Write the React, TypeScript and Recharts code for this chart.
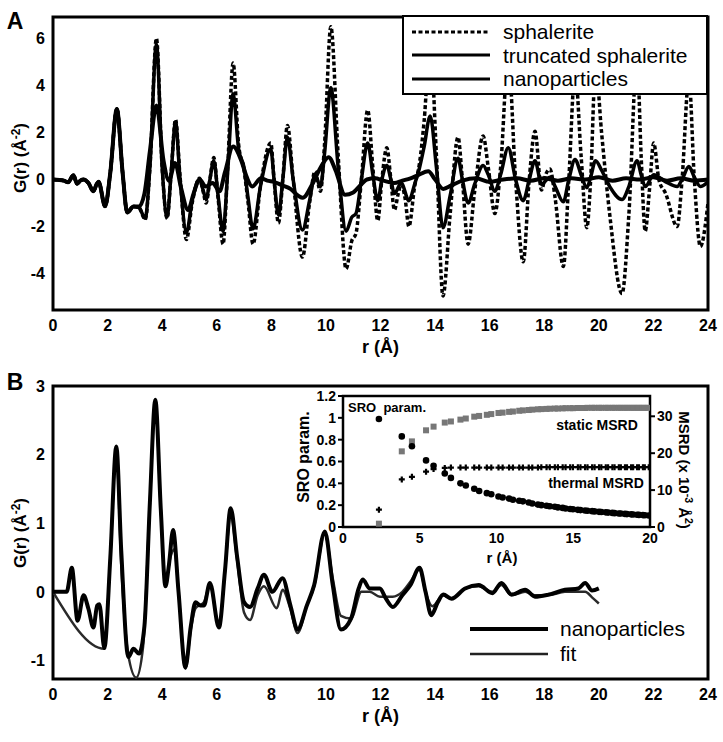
import React from 'react';
import { LineChart, Line, XAxis, YAxis, Legend, ReferenceArea, ScatterChart, Scatter } from 'recharts';

type Pt = [number, number];

const FONT = '"Liberation Sans", Arial, Helvetica, sans-serif';

// ---- panel A : G(r) of sphalerite, truncated sphalerite, nanoparticles ----
const lowR: Pt[] = [
  [0, 0], [0.4, -0.05], [0.55, -0.12], [0.75, 0.18], [0.88, -0.18], [1.0, -0.05], [1.12, 0.0],
  [1.3, -0.15], [1.48, -0.5], [1.6, -0.2], [1.67, -0.1], [1.91, -1.14], [2.1, 0.3], [2.34, 3.0],
  [2.55, 0.3], [2.72, -1.4], [2.95, -1.15],
];

const sphalerite: Pt[] = [
  ...lowR,
  [3.15, -1.2], [3.38, -1.7], [3.55, 0.5], [3.79, 6.0], [4.0, 0.5], [4.18, -1.65], [4.33, 0.3], [4.49, 2.55],
  [4.65, 0.2], [4.89, -2.55], [5.1, -1.0], [5.37, 0.05], [5.5, -0.5], [5.61, -1.0], [5.75, 0.0], [5.89, 0.93],
  [6.05, -0.8], [6.23, -2.75], [6.4, 0.5], [6.6, 4.95], [6.8, 1.5], [7.0, 0.4], [7.15, -1.0], [7.33, -2.75],
  [7.6, -0.3], [7.98, 1.55], [8.1, 0.0], [8.26, -1.85], [8.42, 0.0], [8.59, 2.3], [8.8, 0.0], [9.14, -3.3],
  [9.4, -1.0], [9.6, 0.35], [9.8, -0.5], [9.95, 1.5], [10.18, 6.5], [10.45, 1.0], [10.74, -3.8], [10.95, -2.6],
  [11.1, -2.3], [11.3, 0.0], [11.53, 2.95], [11.72, 0.5], [11.9, -1.75], [12.05, 0.0], [12.23, 1.35], [12.38, 0.0],
  [12.51, -1.3], [12.65, -0.6], [12.76, -0.2], [12.9, -0.8], [13.04, -2.0], [13.25, -0.3], [13.43, 0.7], [13.6, 2.5],
  [13.82, 5.8], [14.05, 1.0], [14.29, -4.95], [14.55, -1.5], [14.84, 1.8], [15.0, 0.0], [15.21, -2.75], [15.45, -0.5],
  [15.76, 1.85], [15.95, 0.5], [16.19, -1.45], [16.4, 0.5], [16.68, 5.2], [16.95, 0.0], [17.23, -3.5], [17.45, 0.0],
  [17.66, 2.05], [17.9, -0.45], [18.05, 0.2], [18.21, 0.45], [18.4, -0.8], [18.7, -3.7], [18.9, 0.0], [19.13, 4.6],
  [19.35, 1.0], [19.56, -2.05], [19.7, 0.0], [19.88, 4.8], [20.1, 2.0], [20.4, -1.5], [20.85, -4.85], [21.1, -1.5],
  [21.4, 5.2], [21.55, 1.0], [21.7, -2.2], [21.85, -0.5], [22.01, 1.55], [22.2, 0.0], [22.45, -0.6], [22.87, -2.0],
  [23.05, 0.0], [23.3, 4.3], [23.5, 0.0], [23.72, -2.85], [24.0, -1.0],
];

const truncated: Pt[] = [
  ...lowR,
  [3.15, -1.2], [3.38, -1.65], [3.55, 0.5], [3.79, 5.75], [4.0, 0.5], [4.18, -1.6], [4.33, 0.3], [4.49, 2.45],
  [4.65, 0.1], [4.89, -2.25], [5.1, -0.9], [5.37, 0.0], [5.5, -0.45], [5.61, -0.85], [5.75, 0.0], [5.89, 0.8],
  [6.05, -0.7], [6.23, -2.2], [6.4, 0.3], [6.6, 3.65], [6.8, 1.3], [7.0, 0.5], [7.15, -0.8], [7.33, -2.1],
  [7.6, -0.3], [7.98, 1.3], [8.1, 0.0], [8.26, -1.5], [8.42, 0.0], [8.59, 1.8], [8.8, 0.0], [9.14, -2.15],
  [9.4, -0.9], [9.6, 0.2], [9.8, -0.3], [9.95, 1.1], [10.18, 3.9], [10.45, 0.5], [10.74, -2.2], [10.95, -1.6],
  [11.1, -1.45], [11.3, 0.0], [11.53, 1.55], [11.72, 0.2], [11.9, -0.9], [12.05, 0.0], [12.23, 0.6], [12.38, 0.0],
  [12.51, -0.6], [12.76, -0.15], [13.04, -0.9], [13.25, -0.2], [13.43, 0.5], [13.6, 1.4], [13.82, 2.7], [14.05, 0.5],
  [14.29, -2.05], [14.55, -0.7], [14.84, 0.9], [15.0, 0.0], [15.21, -1.0], [15.45, -0.2], [15.76, 0.6], [15.95, 0.2],
  [16.19, -0.5], [16.4, 0.2], [16.68, 1.35], [16.95, 0.0], [17.23, -0.9], [17.45, 0.0], [17.66, 0.8], [17.9, -0.2],
  [18.21, 0.1], [18.4, -0.3], [18.7, -0.95], [18.9, 0.0], [19.13, 0.85], [19.35, 0.2], [19.56, -0.35], [19.7, 0.1],
  [19.88, 0.8], [20.1, 0.4], [20.4, -0.3], [20.85, -0.85], [21.1, -0.3], [21.4, 0.8], [21.55, 0.2], [21.7, -0.3],
  [22.01, 0.2], [22.45, -0.1], [22.87, -0.3], [23.05, 0.0], [23.3, 0.55], [23.5, 0.1], [23.72, -0.3], [24.0, -0.1],
];

const nanoA: Pt[] = [
  ...lowR,
  [3.15, -1.15], [3.35, -0.6], [3.55, 1.2], [3.79, 3.15], [4.05, 0.8], [4.25, -0.05], [4.47, 0.7], [4.7, -0.4],
  [4.95, -1.3], [5.15, -0.6], [5.37, 0.0], [5.6, -0.3], [5.85, -0.15], [6.1, -0.5], [6.3, 0.3], [6.6, 1.4],
  [6.9, 0.8], [7.1, 0.1], [7.3, -0.3], [7.62, 0.05], [7.85, -0.05], [8.1, -0.1], [8.4, -0.25], [8.7, -0.4],
  [9.0, -0.7], [9.15, -0.78], [9.5, -0.2], [9.8, 0.5], [10.1, 0.95], [10.35, 0.4], [10.7, -0.65], [11.0, -0.55],
  [11.3, -0.2], [11.5, 0.0], [11.8, 0.05], [12.1, -0.05], [12.5, -0.15], [12.8, -0.05], [13.1, 0.05], [13.4, 0.2],
  [13.75, 0.35], [14.0, 0.0], [14.3, -0.4], [14.6, -0.25], [15.0, -0.05], [15.5, 0.05], [16.0, -0.1], [16.5, 0.0],
  [17.0, 0.05], [17.5, -0.05], [18.0, 0.05], [18.5, -0.05], [19.0, 0.05], [19.5, 0.0], [20.0, 0.1], [20.5, -0.05],
  [21.0, 0.05], [21.5, 0.0], [22.0, 0.1], [22.5, -0.05], [23.0, 0.05], [23.5, -0.05], [24.0, 0.0],
];

// ---- panel B : nanoparticle data and fit ----
const nanoB: Pt[] = [
  [0, 0], [0.5, 0], [0.69, 0.35], [0.9, -0.42], [1.12, -0.05], [1.3, -0.25], [1.48, -0.52], [1.62, -0.2],
  [1.7, -0.18], [1.88, -0.82], [2.1, 0.5], [2.32, 2.12], [2.5, 0.6], [2.76, -0.95], [2.95, -0.83], [3.15, -0.9],
  [3.35, -0.5], [3.55, 1.3], [3.75, 2.8], [3.95, 1.2], [4.12, 0.08], [4.25, 0.4], [4.4, 0.9], [4.6, 0.0],
  [4.85, -1.1], [5.05, -0.5], [5.22, -0.15], [5.4, -0.2], [5.53, -0.2], [5.75, 0.13], [6.08, -0.52], [6.3, 0.3],
  [6.51, 1.22], [6.75, 0.5], [7.0, -0.15], [7.22, -0.22], [7.5, 0.05], [7.73, 0.25], [8.04, 0.0], [8.41, 0.2],
  [8.7, -0.2], [8.96, -0.55], [9.3, -0.2], [9.57, 0.1], [9.96, 0.88], [10.25, 0.1], [10.55, -0.55], [10.92, -0.39],
  [11.2, 0.05], [11.35, 0.18], [11.6, 0.05], [11.98, 0.05], [12.2, -0.1], [12.45, -0.22], [12.8, -0.05], [13.1, 0.1],
  [13.43, 0.35], [13.65, 0.0], [13.86, -0.34], [14.1, -0.15], [14.3, -0.04], [14.6, -0.1], [15.1, 0.05], [15.6, 0.1],
  [16.1, -0.02], [16.43, 0.13], [16.8, -0.04], [17.3, 0.03], [17.66, -0.07], [18.15, -0.04], [18.76, 0.03], [19.25, 0.05],
  [19.5, 0.13], [19.75, 0.02], [20.0, 0.05],
];

const fitB: Pt[] = [
  [0, 0], [1.88, -0.83], [2.1, 0.5], [2.32, 2.08], [2.5, 0.4], [2.75, -0.9], [3.05, -1.25], [3.3, -0.8],
  [3.55, 1.3], [3.75, 2.75], [3.95, 1.2], [4.12, 0.12], [4.3, 0.5], [4.45, 0.62], [4.6, 0.0], [4.85, -1.12],
  [5.05, -0.55], [5.22, -0.24], [5.53, -0.15], [5.75, 0.1], [6.08, -0.5], [6.3, 0.3], [6.51, 1.12], [6.75, 0.45],
  [7.0, -0.3], [7.22, -0.41], [7.5, -0.05], [7.73, 0.08], [8.2, -0.24], [8.41, 0.03], [8.7, -0.25], [8.96, -0.6],
  [9.3, -0.2], [9.57, 0.08], [9.96, 0.85], [10.25, 0.2], [10.55, -0.35], [10.92, -0.39], [11.3, 0.0], [11.6, 0.0],
  [11.98, -0.07], [12.45, -0.07], [12.8, 0.0], [13.1, 0.15], [13.43, 0.33], [13.65, 0.0], [13.9, -0.21], [14.3, -0.05],
  [14.6, -0.1], [15.1, 0.05], [15.6, 0.08], [16.1, 0.0], [16.43, 0.1], [16.8, -0.05], [17.3, 0.0], [17.66, -0.05],
  [18.15, -0.05], [18.76, 0.0], [19.25, 0.0], [19.5, 0.0], [19.75, -0.08], [20.0, -0.17],
];

// ---- inset : SRO parameter and MSRD per shell ----
const shellR = [
  2.34, 3.83, 4.49, 5.41, 5.9, 6.63, 7.03, 7.65, 8.0, 8.55, 8.87, 9.37, 9.66, 10.13, 10.4, 10.82, 11.07, 11.48,
  11.72, 12.1, 12.33, 12.7, 12.92, 13.26, 13.47, 13.8, 14.0, 14.31, 14.5, 14.8, 14.98, 15.3, 15.47, 15.77, 15.93,
  16.23, 16.39, 16.68, 16.83, 17.12, 17.27, 17.55, 17.69, 17.97, 18.1, 18.37, 18.5, 18.77, 18.9, 19.16, 19.28,
  19.54, 19.66, 19.92,
];
const sroParam = [
  0.99, 0.83, 0.74, 0.61, 0.56, 0.49, 0.45, 0.4, 0.38, 0.35, 0.33, 0.31, 0.3, 0.28, 0.27, 0.26, 0.25, 0.24,
  0.235, 0.225, 0.215, 0.205, 0.2, 0.195, 0.19, 0.185, 0.18, 0.175, 0.17, 0.165, 0.162, 0.157, 0.155, 0.151, 0.149,
  0.145, 0.143, 0.139, 0.137, 0.134, 0.132, 0.129, 0.127, 0.124, 0.123, 0.12, 0.118, 0.116, 0.115, 0.112, 0.111,
  0.109, 0.108, 0.106,
];
const staticMsrd = [
  0.9, 20.5, 23.2, 26.2, 27.2, 28.3, 28.6, 29.1, 29.4, 29.9, 30.1, 30.4, 30.6, 30.9, 31.0, 31.2, 31.3, 31.5,
  31.6, 31.7, 31.8, 31.9, 31.95, 32.0, 32.05, 32.1, 32.1, 32.15, 32.2, 32.2, 32.2, 32.25, 32.25, 32.25, 32.3,
  32.3, 32.3, 32.3, 32.3, 32.3, 32.3, 32.3, 32.3, 32.3, 32.3, 32.3, 32.3, 32.3, 32.3, 32.3, 32.3,
  32.3, 32.3, 32.3,
];
const thermalMsrd = [
  4.7, 12.9, 13.6, 15.0, 15.7, 16.0, 16.1, 16.1, 16.1, 16.1, 16.1, 16.1, 16.1, 16.1, 16.1, 16.1, 16.1, 16.1,
  16.1, 16.1, 16.1, 16.1, 16.2, 16.2, 16.2, 16.2, 16.2, 16.2, 16.2, 16.2, 16.2, 16.2, 16.2, 16.2, 16.2,
  16.2, 16.2, 16.2, 16.2, 16.2, 16.2, 16.2, 16.2, 16.2, 16.2, 16.2, 16.2, 16.2, 16.2, 16.2, 16.2,
  16.2, 16.2, 16.2,
];

const xMajor = [0, 2, 4, 6, 8, 10, 12, 14, 16, 18, 20, 22, 24];
const xMinor = [0, 1, 2, 3, 4, 5, 6, 7, 8, 9, 10, 11, 12, 13, 14, 15, 16, 17, 18, 19, 20, 21, 22, 23, 24];
const yTicksA = [-4, -2, 0, 2, 4, 6];
const yTicksB = [-1, 0, 1, 2, 3];
const insetX = [0, 5, 10, 15, 20];
const sroTicks = [0, 0.2, 0.4, 0.6, 0.8, 1, 1.2];
const msrdTicks = [0, 10, 20, 30];
const legendOrderA = ['sphalerite', 'truncated sphalerite', 'nanoparticles'];
const legendOrderB = ['nanoparticles', 'fit'];

const rows = (pts: Pt[]) => pts.map(([r, g]) => ({ r, g }));
const shellRows = (vals: number[]) => shellR.map((r, i) => ({ r, v: vals[i] }));
const inOrder = (payload: any[] = [], order: string[]) =>
  order.map((name) => payload.find((e) => e.value === name)).filter(Boolean);

const tickFont = { fill: '#000', fontSize: 16, fontWeight: 700, fontFamily: FONT };
const insetTick = { fill: '#000', fontSize: 14, fontWeight: 700, fontFamily: FONT };
const dashOf: Record<string, string | undefined> = { sphalerite: '4 2.5' };

const LegendA = ({ payload }: any) => (
  <div style={{ border: '2.5px solid #000', background: '#fff', width: 306, height: 80, boxSizing: 'border-box', padding: '3px 0 0 8px', fontFamily: FONT }}>
    {inOrder(payload, legendOrderA).map((e: any) => (
      <div key={e.value} style={{ display: 'flex', alignItems: 'center', height: 23.5 }}>
        <svg width={78} height={6} style={{ marginRight: 13 }}>
          <line x1={0} x2={78} y1={3} y2={3} stroke="#000" strokeWidth={3} strokeDasharray={dashOf[e.value]} />
        </svg>
        <span style={{ fontSize: 21, lineHeight: '23px', color: '#000' }}>{e.value}</span>
      </div>
    ))}
  </div>
);

const LegendB = ({ payload }: any) => (
  <div style={{ fontFamily: FONT }}>
    {inOrder(payload, legendOrderB).map((e: any, i: number) => (
      <div key={e.value} style={{ display: 'flex', alignItems: 'center', height: 25 }}>
        <svg width={78} height={6} style={{ marginRight: 12 }}>
          <line x1={0} x2={78} y1={3} y2={3} stroke={i === 0 ? '#000' : '#222'} strokeWidth={i === 0 ? 4 : 2.5} />
        </svg>
        <span style={{ fontSize: 21, lineHeight: '23px', color: '#000' }}>{e.value}</span>
      </div>
    ))}
  </div>
);

function PanelA() {
  return (
    <LineChart width={723} height={360} margin={{ top: 17, right: 15, bottom: 0, left: 0 }}>
      <XAxis type="number" dataKey="r" domain={[0, 24]} ticks={xMajor} allowDataOverflow height={50}
        tickLine={false} axisLine={false} tickSize={6} tickMargin={4} tick={tickFont}
        label={{ value: 'r (Å)', position: 'insideBottom', offset: 7, style: { fontSize: 18, fontWeight: 700, fontFamily: FONT, fill: '#000' } }} />
      <XAxis xAxisId="minor" type="number" dataKey="r" domain={[0, 24]} ticks={xMinor} allowDataOverflow mirror
        tick={false} tickSize={8} axisLine={false} tickLine={{ stroke: '#000', strokeWidth: 2 }} />
      <YAxis type="number" domain={[-5.55, 6.91]} ticks={yTicksA} allowDataOverflow width={53}
        tickLine={false} axisLine={false} tickSize={6} tickMargin={2} tick={tickFont} />
      <Line data={rows(sphalerite)} dataKey="g" name="sphalerite" type="monotone" stroke="#000" strokeWidth={3.5}
        strokeDasharray="4 2.5" dot={false} isAnimationActive={false} />
      <Line data={rows(truncated)} dataKey="g" name="truncated sphalerite" type="monotone" stroke="#000" strokeWidth={3.5}
        dot={false} isAnimationActive={false} />
      <Line data={rows(nanoA)} dataKey="g" name="nanoparticles" type="monotone" stroke="#000" strokeWidth={4}
        dot={false} isAnimationActive={false} />
      <ReferenceArea x1={0} x2={24} y1={-5.55} y2={6.91} fill="none" stroke="#000" strokeWidth={3} ifOverflow="visible" />
      <Legend content={<LegendA />} layout="horizontal" verticalAlign="middle" align="center"
        wrapperStyle={{ left: 402, top: 15, width: 306 }} />
    </LineChart>
  );
}

function PanelB() {
  return (
    <LineChart width={723} height={360} margin={{ top: 16, right: 15, bottom: 0, left: 0 }}>
      <XAxis type="number" dataKey="r" domain={[0, 24]} ticks={xMajor} allowDataOverflow height={51}
        tickLine={false} axisLine={false} tickSize={6} tickMargin={4} tick={tickFont}
        label={{ value: 'r (Å)', position: 'insideBottom', offset: 8, style: { fontSize: 18, fontWeight: 700, fontFamily: FONT, fill: '#000' } }} />
      <XAxis xAxisId="minor" type="number" dataKey="r" domain={[0, 24]} ticks={xMinor} allowDataOverflow mirror
        tick={false} tickSize={8} axisLine={false} tickLine={{ stroke: '#000', strokeWidth: 2 }} />
      <YAxis type="number" domain={[-1.27, 3]} ticks={yTicksB} allowDataOverflow width={53}
        tickLine={false} axisLine={false} tickSize={6} tickMargin={2} tick={tickFont} />
      <YAxis yAxisId="lm" type="number" domain={[-1.27, 3]} ticks={yTicksB} allowDataOverflow mirror
        tick={false} tickSize={8} axisLine={false} tickLine={{ stroke: '#000', strokeWidth: 2 }} />
      <YAxis yAxisId="rm" orientation="right" type="number" domain={[-1.27, 3]} ticks={yTicksB} allowDataOverflow mirror
        tick={false} tickSize={8} axisLine={false} tickLine={{ stroke: '#000', strokeWidth: 2 }} />
      <Line data={rows(fitB)} dataKey="g" name="fit" type="monotone" stroke="#2a2a2a" strokeWidth={2.5}
        dot={false} isAnimationActive={false} />
      <Line data={rows(nanoB)} dataKey="g" name="nanoparticles" type="monotone" stroke="#000" strokeWidth={4}
        dot={false} isAnimationActive={false} />
      <ReferenceArea x1={0} x2={24} y1={-1.27} y2={3} fill="none" stroke="#000" strokeWidth={3} ifOverflow="visible" />
      <Legend content={<LegendB />} layout="horizontal" verticalAlign="middle" align="center"
        wrapperStyle={{ left: 470, top: 246, width: 240 }} />
    </LineChart>
  );
}

const dotShape = (p: any) => <circle cx={p.cx} cy={p.cy} r={3.3} fill="#000" />;
const squareShape = (p: any) => <rect x={p.cx - 3} y={p.cy - 3} width={6} height={6} fill="#777" />;
const plusShape = (p: any) => (
  <path d={`M${p.cx - 3},${p.cy}H${p.cx + 3}M${p.cx},${p.cy - 3}V${p.cy + 3}`} stroke="#000" strokeWidth={2.2} />
);

function Inset() {
  return (
    <ScatterChart width={420} height={190} margin={{ top: 16, right: 0, bottom: 0, left: 0 }}>
      <XAxis type="number" dataKey="r" domain={[0, 20]} ticks={insetX} allowDataOverflow height={43}
        tickLine={false} axisLine={false} tickSize={4} tickMargin={2} tick={insetTick} />
      <XAxis xAxisId="im" type="number" dataKey="r" domain={[0, 20]} ticks={insetX} allowDataOverflow mirror
        tick={false} tickSize={5} axisLine={false} tickLine={{ stroke: '#000', strokeWidth: 2 }} />
      <YAxis yAxisId="sro" type="number" dataKey="v" domain={[0, 1.2]} ticks={sroTicks} allowDataOverflow width={63}
        axisLine={false} tickSize={5} tickMargin={2} tick={insetTick} tickLine={{ stroke: '#000', strokeWidth: 2 }} />
      <YAxis yAxisId="msrd" orientation="right" type="number" dataKey="v" domain={[0, 35.5]} ticks={msrdTicks}
        allowDataOverflow width={50} axisLine={false} tickSize={5} tickMargin={2} tick={insetTick}
        tickLine={{ stroke: '#000', strokeWidth: 2 }} />
      <Scatter data={shellRows(staticMsrd)} yAxisId="msrd" shape={squareShape} isAnimationActive={false} />
      <Scatter data={shellRows(thermalMsrd)} yAxisId="msrd" shape={plusShape} isAnimationActive={false} />
      <Scatter data={shellRows(sroParam)} yAxisId="sro" shape={dotShape} isAnimationActive={false} />
      <ReferenceArea yAxisId="sro" x1={0} x2={20} y1={0} y2={1.2} fill="none" stroke="#000" strokeWidth={2.5} ifOverflow="visible" />
    </ScatterChart>
  );
}

const txt = (x: number, y: number, size: number, weight: number, rot = 0): React.CSSProperties => ({
  position: 'absolute', left: x, top: y, fontSize: size, fontWeight: weight, fontFamily: FONT, color: '#000',
  whiteSpace: 'nowrap', lineHeight: 1, transform: `translate(-50%, -50%) rotate(${rot}deg)`,
});

export default function App() {
  return (
    <div style={{ position: 'absolute', left: 0, top: 0, width: 723, height: 742, background: '#fff', overflow: 'hidden' }}>
      <div style={{ position: 'absolute', left: 0, top: 0 }}><PanelA /></div>
      <div style={{ position: 'absolute', left: 0, top: 370 }}><PanelB /></div>
      <div style={{ position: 'absolute', left: 280, top: 380 }}><Inset /></div>

      <div style={txt(15, 21, 23, 700)}>A</div>
      <div style={txt(15, 382, 23, 700)}>B</div>
      <div style={txt(20, 158, 17, 700, -90)}>G(r) (Å<sup style={{ fontSize: '0.7em' }}>-2</sup>)</div>
      <div style={txt(20, 533, 17, 700, -90)}>G(r) (Å<sup style={{ fontSize: '0.7em' }}>-2</sup>)</div>

      <div style={txt(304, 457, 16, 700, -90)}>SRO param.</div>
      <div style={txt(685, 470, 15, 700, 90)}>MSRD (x 10<sup style={{ fontSize: '0.7em' }}>-3</sup> Å<sup style={{ fontSize: '0.7em' }}>2</sup>)</div>
      <div style={txt(502, 557, 15, 700)}>r (Å)</div>
      <div style={txt(387, 407, 13, 700)}>SRO&nbsp; param.</div>
      <div style={txt(597, 425, 14, 700)}>static MSRD</div>
      <div style={txt(596, 483, 14, 700)}>thermal MSRD</div>
    </div>
  );
}
